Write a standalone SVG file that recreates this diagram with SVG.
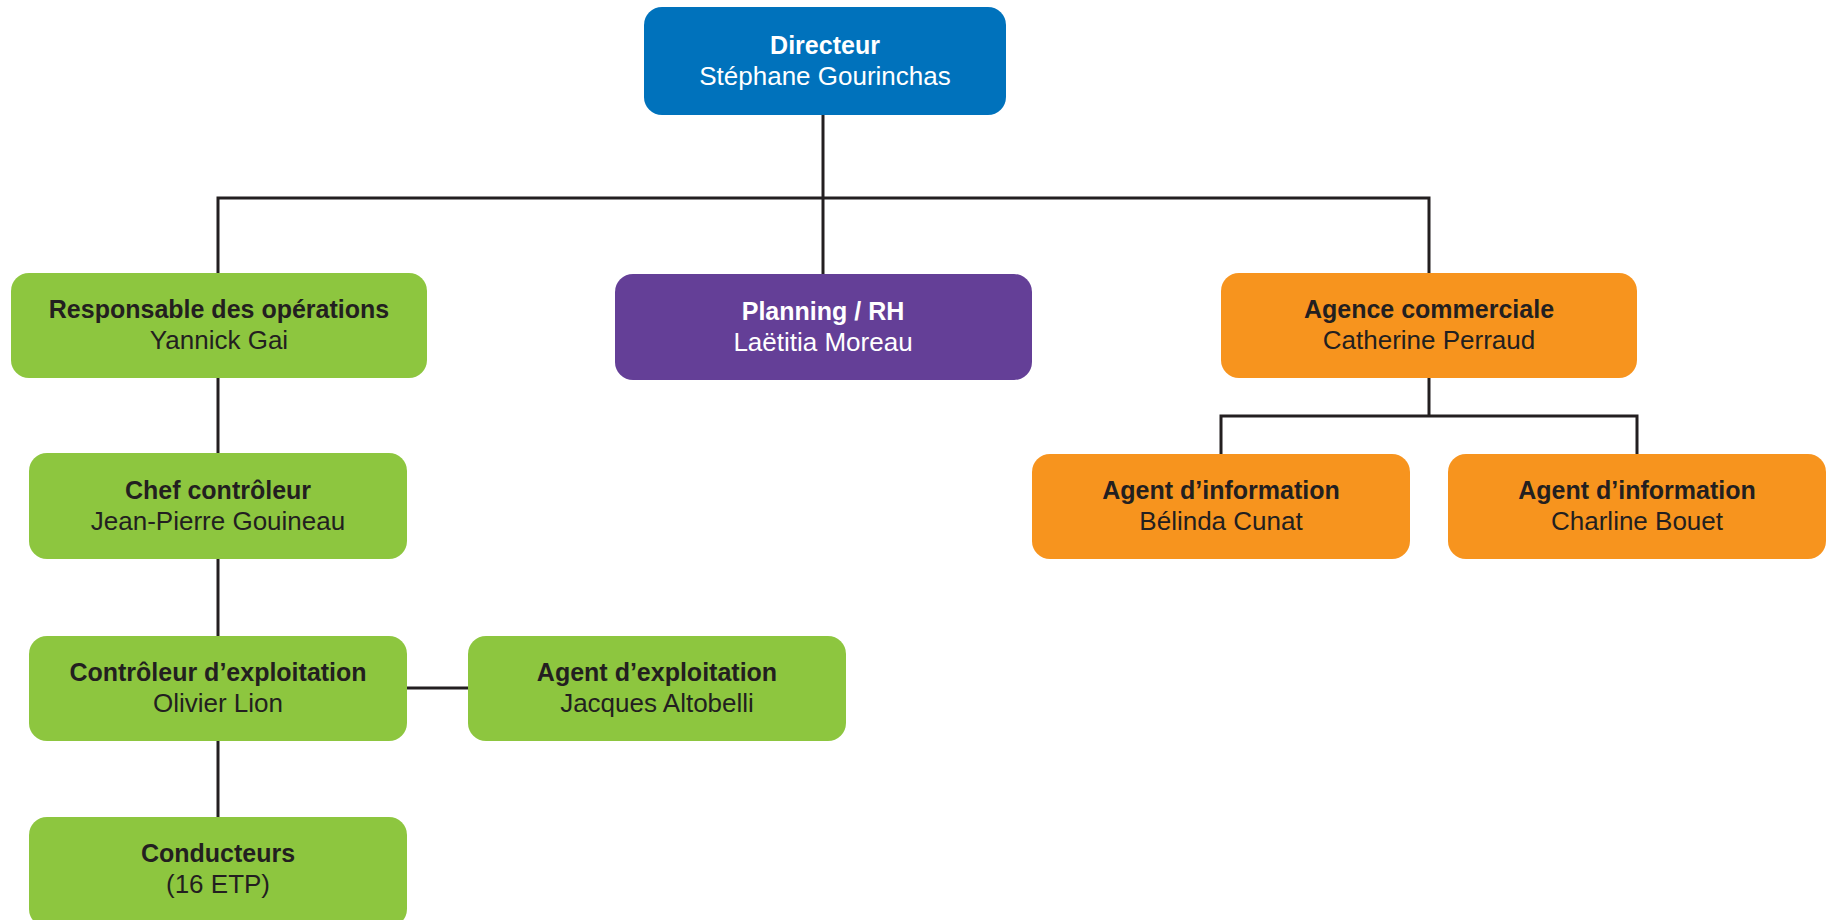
<svg xmlns="http://www.w3.org/2000/svg" width="1829" height="920" viewBox="0 0 1829 920">
<style>
.box{stroke:none}
.blue{fill:#0072bc}
.green{fill:#8dc63f}
.purple{fill:#643f97}
.orange{fill:#f7941e}
.t{font-family:"Liberation Sans",Arial,sans-serif;font-size:25px;font-weight:bold;text-anchor:middle}
.n{font-family:"Liberation Sans",Arial,sans-serif;font-size:26px;text-anchor:middle}
.dark{fill:#231f20}
.light{fill:#ffffff}
.c{stroke:#231f20;stroke-width:3;fill:none}
</style>
<rect width="1829" height="920" fill="#ffffff"/>
<g id="connectors">
<path class="c" d="M823 115 V274"/>
<path class="c" d="M218 273 V198 H1429 V273"/>
<path class="c" d="M218 378 V453"/>
<path class="c" d="M218 559 V636"/>
<path class="c" d="M218 741 V817"/>
<path class="c" d="M407 688 H468"/>
<path class="c" d="M1429 378 V416"/>
<path class="c" d="M1221 454 V416 H1637 V454"/>
</g>
<g id="directeur">
<rect class="box blue" x="644" y="7" width="362" height="108" rx="18"/>
<text class="t light" x="825" y="54">Directeur</text>
<text class="n light" x="825" y="85">Stéphane Gourinchas</text>
</g>
<g id="responsable">
<rect class="box green" x="11" y="273" width="416" height="105" rx="18"/>
<text class="t dark" x="219" y="318">Responsable des opérations</text>
<text class="n dark" x="219" y="349">Yannick Gai</text>
</g>
<g id="planning">
<rect class="box purple" x="615" y="274" width="417" height="106" rx="18"/>
<text class="t light" x="823" y="320">Planning / RH</text>
<text class="n light" x="823" y="351">Laëtitia Moreau</text>
</g>
<g id="agence">
<rect class="box orange" x="1221" y="273" width="416" height="105" rx="18"/>
<text class="t dark" x="1429" y="318">Agence commerciale</text>
<text class="n dark" x="1429" y="349">Catherine Perraud</text>
</g>
<g id="agent-info-1">
<rect class="box orange" x="1032" y="454" width="378" height="105" rx="18"/>
<text class="t dark" x="1221" y="499">Agent d’information</text>
<text class="n dark" x="1221" y="530">Bélinda Cunat</text>
</g>
<g id="agent-info-2">
<rect class="box orange" x="1448" y="454" width="378" height="105" rx="18"/>
<text class="t dark" x="1637" y="499">Agent d’information</text>
<text class="n dark" x="1637" y="530">Charline Bouet</text>
</g>
<g id="chef">
<rect class="box green" x="29" y="453" width="378" height="106" rx="18"/>
<text class="t dark" x="218" y="499">Chef contrôleur</text>
<text class="n dark" x="218" y="530">Jean-Pierre Gouineau</text>
</g>
<g id="controleur">
<rect class="box green" x="29" y="636" width="378" height="105" rx="18"/>
<text class="t dark" x="218" y="681">Contrôleur d’exploitation</text>
<text class="n dark" x="218" y="712">Olivier Lion</text>
</g>
<g id="agent-exploitation">
<rect class="box green" x="468" y="636" width="378" height="105" rx="18"/>
<text class="t dark" x="657" y="681">Agent d’exploitation</text>
<text class="n dark" x="657" y="712">Jacques Altobelli</text>
</g>
<g id="conducteurs">
<rect class="box green" x="29" y="817" width="378" height="110" rx="18"/>
<text class="t dark" x="218" y="862">Conducteurs</text>
<text class="n dark" x="218" y="893">(16 ETP)</text>
</g>
</svg>
